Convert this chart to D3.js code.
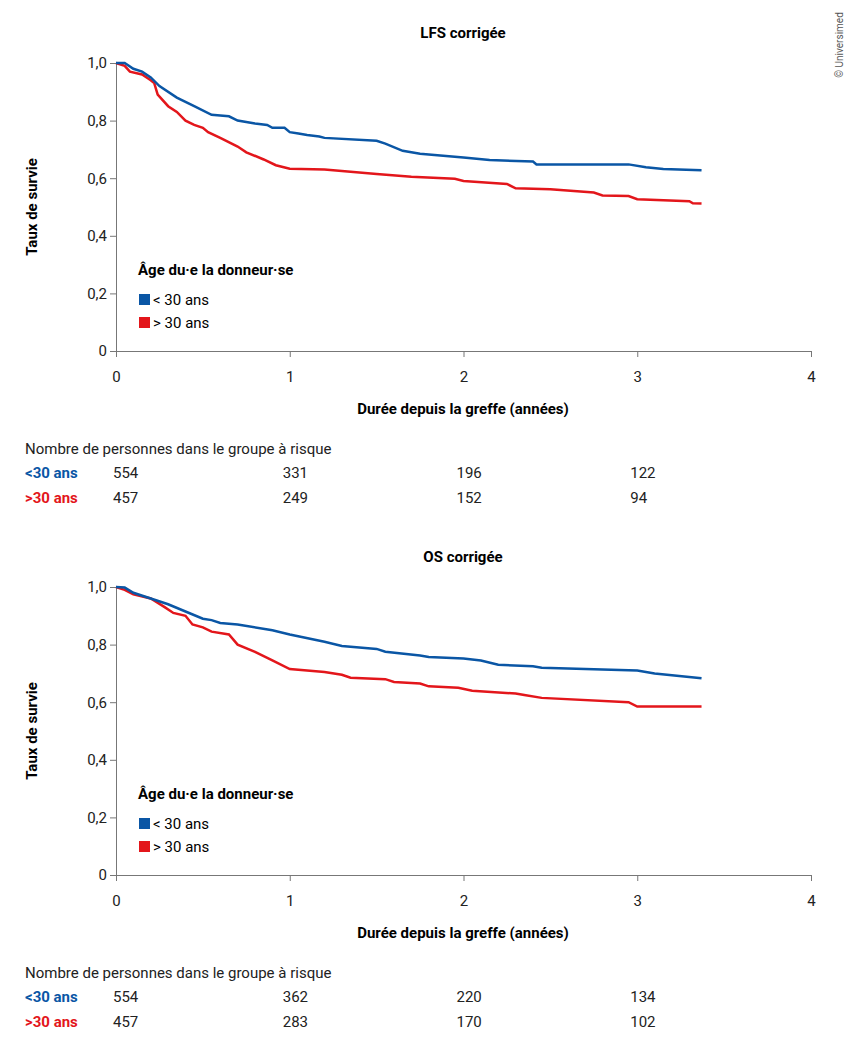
<!DOCTYPE html>
<html><head><meta charset="utf-8">
<script src="https://cdn.jsdelivr.net/npm/d3@7"></script>
<style>body{margin:0;background:#fff}svg{font-family:Roboto,"Liberation Sans",sans-serif}</style>
</head><body><svg width="854" height="1051"></svg>
<script>
// survival curves (time in years, survival rate)
const lfsYoung = [[0,1],[0.05,1],[0.1,0.98],[0.15,0.97],[0.2,0.95],[0.25,0.92],[0.35,0.88],[0.45,0.85],[0.55,0.82],[0.65,0.815],[0.7,0.8],[0.8,0.79],[0.87,0.785],[0.9,0.775],[0.97,0.775],[1.0,0.76],[1.05,0.755],[1.1,0.75],[1.17,0.745],[1.2,0.74],[1.5,0.73],[1.55,0.72],[1.65,0.695],[1.75,0.685],[2.0,0.672],[2.15,0.663],[2.4,0.658],[2.42,0.648],[2.95,0.648],[3.05,0.638],[3.15,0.632],[3.37,0.628]];
const lfsOld = [[0,1],[0.05,0.99],[0.08,0.97],[0.15,0.96],[0.2,0.94],[0.22,0.93],[0.24,0.89],[0.3,0.85],[0.35,0.83],[0.4,0.8],[0.45,0.785],[0.5,0.775],[0.53,0.76],[0.6,0.74],[0.7,0.71],[0.75,0.69],[0.85,0.665],[0.92,0.645],[1.0,0.633],[1.2,0.63],[1.5,0.615],[1.7,0.605],[1.95,0.598],[2.0,0.59],[2.25,0.58],[2.3,0.565],[2.5,0.562],[2.75,0.55],[2.8,0.54],[2.95,0.538],[3.0,0.527],[3.3,0.52],[3.32,0.513],[3.37,0.512]];
const osYoung = [[0,1],[0.05,0.998],[0.1,0.98],[0.2,0.96],[0.3,0.94],[0.4,0.915],[0.5,0.89],[0.55,0.885],[0.6,0.875],[0.7,0.87],[0.9,0.85],[1.0,0.835],[1.2,0.81],[1.3,0.795],[1.5,0.785],[1.55,0.775],[1.75,0.762],[1.8,0.757],[2.0,0.752],[2.1,0.745],[2.2,0.73],[2.4,0.725],[2.45,0.72],[3.0,0.71],[3.1,0.7],[3.37,0.683]];
const osOld = [[0,1],[0.05,0.99],[0.1,0.975],[0.2,0.96],[0.28,0.93],[0.33,0.91],[0.4,0.9],[0.44,0.87],[0.5,0.86],[0.55,0.845],[0.65,0.835],[0.7,0.8],[0.8,0.775],[0.9,0.745],[1.0,0.715],[1.2,0.705],[1.3,0.695],[1.35,0.685],[1.55,0.68],[1.6,0.67],[1.75,0.665],[1.8,0.655],[1.97,0.65],[2.05,0.64],[2.3,0.63],[2.35,0.625],[2.45,0.615],[2.95,0.6],[3.0,0.585],[3.37,0.585]];
const lfsRiskYoung = [554, 331, 196, 122];
const lfsRiskOld = [457, 249, 152, 94];
const osRiskYoung = [554, 362, 220, 134];
const osRiskOld = [457, 283, 170, 102];
const groups = ["<30 ans", ">30 ans"];
const colors = ["#0a56a5", "#e3161b"];

const svg = d3.select("svg");
const x = d3.scaleLinear().domain([0, 4]).range([116, 811]);

svg.append("text").attr("transform", "translate(843,45) rotate(-90)")
  .attr("text-anchor", "middle").attr("font-size", 10).attr("fill", "#555").text("© Universimed");

function panel(top, title, young, old, riskY, riskO) {
  const y = d3.scaleLinear().domain([0, 1]).range([top + 288, top]);
  const g = svg.append("g");
  g.append("text").attr("x", 463).attr("y", top - 25).attr("text-anchor", "middle")
    .attr("font-size", 15).attr("font-weight", "bold").text(title);

  const xa = g.append("g").attr("transform", `translate(0,${top + 288})`)
    .call(d3.axisBottom(x).ticks(4).tickSize(6).tickSizeOuter(0).tickFormat(d3.format("d")));
  const ya = g.append("g").attr("transform", "translate(116,0)")
    .call(d3.axisLeft(y).tickValues(d3.range(0, 1.01, 0.2)).tickSize(6).tickSizeOuter(0)
      .tickFormat(d => d === 0 ? "0" : d3.format(".1f")(d).replace(".", ",")));
  [xa, ya].forEach(a => {
    a.selectAll("path,line").attr("stroke", "#777");
    a.selectAll("text").attr("font-size", 15).attr("fill", "#222").attr("font-family", "Roboto,sans-serif");
  });
  xa.selectAll("text").attr("dy", "1.45em");

  g.append("text").attr("transform", `translate(37,${top + 144}) rotate(-90)`).attr("text-anchor", "middle")
    .attr("font-size", 15).attr("font-weight", "bold").text("Taux de survie");
  g.append("text").attr("x", 463).attr("y", top + 351).attr("text-anchor", "middle")
    .attr("font-size", 15).attr("font-weight", "bold").text("Durée depuis la greffe (années)");

  const line = d3.line().x(d => x(d[0])).y(d => y(d[1]));
  [old, young].forEach((s, i) => g.append("path").datum(s).attr("d", line)
    .attr("fill", "none").attr("stroke", colors[1 - i]).attr("stroke-width", 2.5));

  g.append("text").attr("x", 138).attr("y", top + 212).attr("font-size", 15).attr("font-weight", "bold")
    .text("Âge du·e la donneur·se");
  groups.forEach((n, i) => {
    g.append("rect").attr("x", 139).attr("y", top + 231 + i * 23).attr("width", 11).attr("height", 11).attr("fill", colors[i]);
    g.append("text").attr("x", 153).attr("y", top + 242 + i * 23).attr("font-size", 15).text(n.replace(/^([<>])/, "$1 "));
  });

  g.append("text").attr("x", 25).attr("y", top + 391).attr("font-size", 15).attr("fill", "#222")
    .text("Nombre de personnes dans le groupe à risque");
  [riskY, riskO].forEach((r, i) => {
    const ry = top + 415 + i * 25;
    g.append("text").attr("x", 25).attr("y", ry).attr("font-size", 15).attr("font-weight", "bold")
      .attr("fill", colors[i]).text(groups[i]);
    r.forEach((v, j) => g.append("text").attr("x", x(j)).attr("dx", j === 0 ? -3 : -7)
      .attr("y", ry).attr("font-size", 15).attr("fill", "#222").text(v));
  });
}
panel(63, "LFS corrigée", lfsYoung, lfsOld, lfsRiskYoung, lfsRiskOld);
panel(587, "OS corrigée", osYoung, osOld, osRiskYoung, osRiskOld);
</script></body></html>
